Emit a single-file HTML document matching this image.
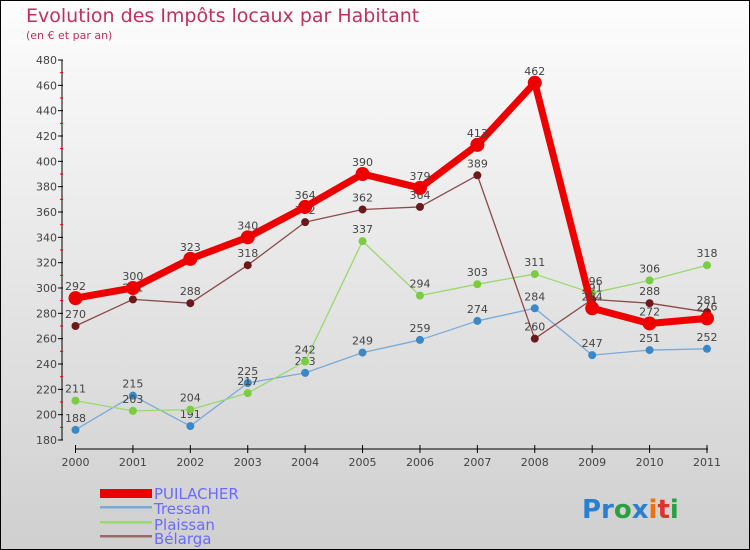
<!DOCTYPE html>
<html><head><meta charset="utf-8"><style>
body{margin:0;width:750px;height:550px;overflow:hidden}
svg{display:block;font-family:"DejaVu Sans","Liberation Sans",sans-serif}
</style></head><body>
<svg width="750" height="550">
<defs><linearGradient id="bg" x1="0" y1="0" x2="0" y2="1"><stop offset="0" stop-color="#fdfdfd"/><stop offset="1" stop-color="#cfcfcf"/></linearGradient></defs>
<rect x="0.5" y="0.5" width="749" height="549" fill="url(#bg)" stroke="#000"/>
<text x="26" y="22" font-size="19" fill="#c0305a">Evolution des Impôts locaux par Habitant</text>
<text x="26" y="39" font-size="11" fill="#c0305a">(en € et par an)</text>
<g id="axes"></g>
<g id="series"></g>
<g>
<rect x="100" y="489" width="52" height="9" fill="#e00"/>
<text x="154" y="499" font-size="15" fill="#6a6aff">PUILACHER</text>
<rect x="100" y="506" width="52" height="2.5" fill="#7aaad8"/>
<text x="154" y="514" font-size="15" fill="#6a6aff">Tressan</text>
<rect x="100" y="521" width="52" height="2.5" fill="#9ad870"/>
<text x="154" y="530" font-size="15" fill="#6a6aff">Plaissan</text>
<rect x="100" y="535" width="52" height="2.5" fill="#9a6a6a"/>
<text x="154" y="544" font-size="15" fill="#6a6aff">Bélarga</text>
</g>
<text x="582" y="518" font-size="26" font-weight="bold"><tspan fill="#2a7fd0">Pr</tspan><tspan fill="#2aa040">o</tspan><tspan fill="#2a7fd0">x</tspan><tspan fill="#f07010">i</tspan><tspan fill="#e03030">t</tspan><tspan fill="#2aa040">i</tspan></text>
</svg>
<script>
const years=["2000","2001","2002","2003","2004","2005","2006","2007","2008","2009","2010","2011"];
const yTicks=[180,200,220,240,260,280,300,320,340,360,380,400,420,440,460,480];
const puilacher=[292,300,323,340,364,390,379,413,462,284,272,276];
const tressan=[188,215,191,225,233,249,259,274,284,247,251,252];
const plaissan=[211,203,204,217,242,337,294,303,311,296,306,318];
const belarga=[270,291,288,318,352,362,364,389,260,291,288,281];
const NS="http://www.w3.org/2000/svg";
function X(i){return 75.5+i*(707-75.5)/11;}
function Y(v){return 440-(v-180)*380/300;}
function mk(tag,attrs,parent){const e=document.createElementNS(NS,tag);for(const k in attrs)e.setAttribute(k,attrs[k]);parent.appendChild(e);return e;}
const ax=document.getElementById('axes');
const ya=mk('line',{x1:62,y1:60,x2:62,y2:440,stroke:'#000','stroke-width':1},ax);


yTicks.forEach((t,i)=>{
 const l=mk('line',{x1:58,y1:Y(t),x2:63,y2:Y(t),stroke:'#000'},ax);
 
 
 if(i<yTicks.length-1){const m=mk('line',{x1:60,y1:Y(t+10),x2:63,y2:Y(t+10),stroke:'#e00'},ax);
 
 }
 const tx=mk('text',{x:57,y:Y(t)+4,'font-size':11,'text-anchor':'end',fill:'#444'},ax);
 tx.textContent=t;
 
 
});
const xa=mk('line',{x1:75,y1:449,x2:708,y2:449,stroke:'#000'},ax);


years.forEach((y,i)=>{
 const l=mk('line',{x1:X(i),y1:445,x2:X(i),y2:453,stroke:'#000'},ax);
 
 
 const tx=mk('text',{x:X(i),y:466,'font-size':11,'text-anchor':'middle',fill:'#444'},ax);
 tx.textContent=y;
 
 
});
const sg=document.getElementById('series');
function draw(name,data,color,dot,w,r){
 const g=mk('g',{},sg);
 
 
 const pl=mk('polyline',{points:data.map((v,i)=>X(i)+','+Y(v)).join(' '),fill:'none',stroke:color,'stroke-width':w,'stroke-linejoin':'round'},g);
 
 
 data.forEach((v,i)=>{
  const c=mk('circle',{cx:X(i),cy:Y(v),r:r,fill:dot},g);
  
  
  const t=mk('text',{x:X(i),y:Y(v)-8,'font-size':11,'text-anchor':'middle',fill:'#444'},g);
  t.textContent=v;
  
  
 });
}
draw('tressan',tressan,'#7aaad8','#3a88c8',1.3,4);
draw('plaissan',plaissan,'#9ad870','#7acc40',1.3,4);
draw('belarga',belarga,'#8a4a4a','#6a1a1a',1.3,4);
draw('puilacher',puilacher,'#e00','#e00',7,7);
</script>
</body></html>
